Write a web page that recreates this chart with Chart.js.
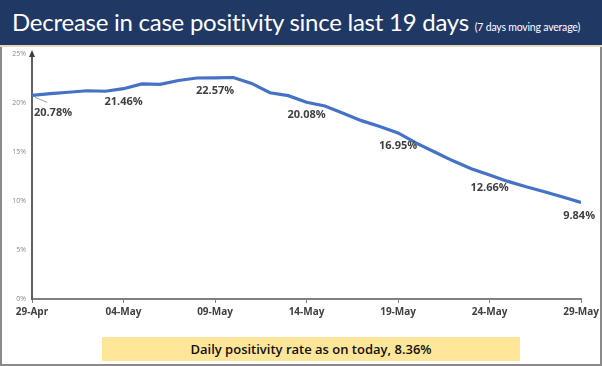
<!DOCTYPE html>
<html>
<head>
<meta charset="utf-8">
<script src="https://cdn.jsdelivr.net/npm/chart.js@4/dist/chart.umd.min.js"></script>
<style>
  html, body { margin:0; padding:0; background:#fff; }
  #wrap { position:relative; width:602px; height:366px; overflow:hidden; background:#fff; }
  #band { position:absolute; left:0; top:0; width:602px; height:45px; background:#1F3864; border-bottom:2px solid #E8D7BF; }
  #title { position:absolute; left:12px; top:7px; color:#fff; font-family:Lato, "Open Sans", sans-serif; font-size:24px; white-space:nowrap; letter-spacing:-0.25px; }
  #title small { font-size:10.5px; letter-spacing:-0.2px; }
  #frame { position:absolute; left:0; top:47px; width:598px; height:317px; border-left:2px solid #8a8a8a; border-right:2px solid #8a8a8a; border-bottom:2px solid #8a8a8a; }
  #chart { position:absolute; left:0; top:0; }
  #note { position:absolute; left:102px; top:337px; width:418px; height:24px; background:#FFE699; color:#111; font-family:"Open Sans", Lato, sans-serif; font-weight:600; font-size:13px; line-height:24px; text-align:center; }
</style>
</head>
<body>
<div id="wrap">
  <div id="band"></div>
  <div id="title">Decrease in case positivity since last 19 days <small>(7 days moving average)</small></div>
  <div id="frame"></div>
  <canvas id="chart" width="602" height="366"></canvas>
  <div id="note">Daily positivity rate as on today, 8.36%</div>
</div>
<script>
const dates = ["29-Apr","30-Apr","01-May","02-May","03-May","04-May","05-May","06-May","07-May","08-May","09-May","10-May","11-May","12-May","13-May","14-May","15-May","16-May","17-May","18-May","19-May","20-May","21-May","22-May","23-May","24-May","25-May","26-May","27-May","28-May","29-May"];
const positivity = [20.78,20.95,21.10,21.25,21.20,21.46,21.95,21.90,22.30,22.55,22.57,22.60,22.00,21.05,20.75,20.08,19.70,18.95,18.20,17.60,16.95,15.90,15.00,14.10,13.30,12.66,12.00,11.45,10.95,10.40,9.84];
const labeledIdx = [0,5,10,15,20,25,30];
const yTicks = [0,5,10,15,20,25];

const points = positivity.map((v,i)=>({x:i, y:v}));

const labelPlugin = {
  id:'valueLabels',
  afterDatasetsDraw(chart){
    const ctx = chart.ctx;
    const meta = chart.getDatasetMeta(0);
    ctx.save();
    ctx.font = 'bold 11px "Open Sans", Lato, sans-serif';
    ctx.fillStyle = '#404040';
    ctx.textAlign = 'center';
    ctx.textBaseline = 'middle';
    labeledIdx.forEach(i=>{
      const el = meta.data[i];
      let dx = 0, dy = 13;
      if (i === 0) {
        dx = 21; dy = 18;
        ctx.strokeStyle = '#a0a0a0'; ctx.lineWidth = 1;
        ctx.beginPath(); ctx.moveTo(el.x+3, el.y+2); ctx.lineTo(el.x+15, el.y+7); ctx.stroke();
      }
      if (i === positivity.length-1) { dx = -2; dy = 13.5; }
      ctx.fillText(positivity[i].toFixed(2)+'%', el.x+dx, el.y+dy);
    });
    ctx.restore();
  }
};

const arrowPlugin = {
  id:'yArrow',
  afterDraw(chart){
    const ctx = chart.ctx, a = chart.chartArea;
    ctx.save();
    ctx.fillStyle = '#404040';
    ctx.beginPath();
    ctx.moveTo(a.left, a.top-4); ctx.lineTo(a.left-3, a.top+3); ctx.lineTo(a.left+3, a.top+3); ctx.closePath();
    ctx.fill();
    ctx.restore();
  }
};

new Chart(document.getElementById('chart'), {
  type:'line',
  data:{ datasets:[{ data:points, borderColor:'#4472C4', borderWidth:3.2, pointRadius:0, tension:0, fill:false }] },
  options:{
    responsive:false, animation:false,
    layout:{ padding:{ left:0, top:54, right:18, bottom:0 } },
    plugins:{ legend:{display:false}, tooltip:{enabled:false} },
    scales:{
      x:{
        type:'linear', min:0, max:dates.length-1,
        afterFit(s){ s.height = 67; },
        afterBuildTicks(s){ s.ticks = labeledIdx.map(v=>({value:v})); },
        ticks:{ callback:(v)=>dates[v], font:{ family:'"Open Sans", Lato, sans-serif', size:10, weight:'bold' }, color:'#404040', padding:3, maxRotation:0, autoSkip:false },
        grid:{ drawOnChartArea:false, drawTicks:true, tickLength:4, color:'#808080', lineWidth:1 },
        border:{ color:'#808080', width:2 }
      },
      y:{
        min:0, max:25,
        afterFit(s){ s.width = 32; },
        afterBuildTicks(s){ s.ticks = yTicks.map(v=>({value:v})); },
        ticks:{ callback:(v)=>v+'%', font:{ family:'"Open Sans", sans-serif', size:7 }, color:'#8c8c8c', padding:6 },
        grid:{ display:false, drawTicks:false },
        border:{ color:'#606060', width:2 }
      }
    }
  },
  plugins:[labelPlugin, arrowPlugin]
});
</script>
</body>
</html>
